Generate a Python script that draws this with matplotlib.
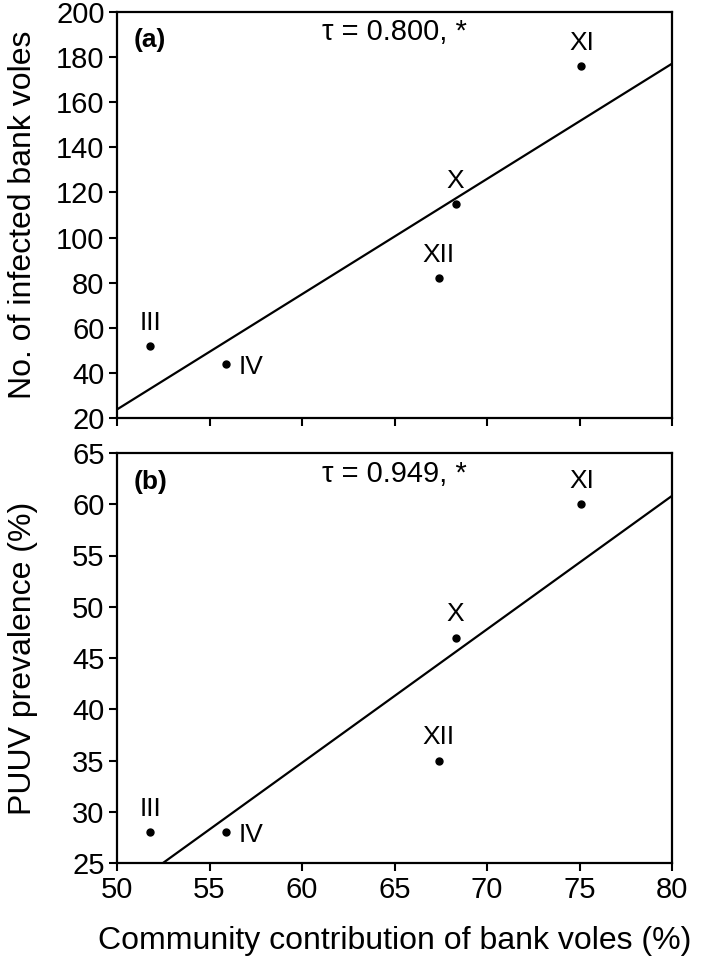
import numpy as np
import matplotlib
matplotlib.use("Agg")
import matplotlib.pyplot as plt

plt.rcParams['font.family'] = ['Liberation Sans', 'DejaVu Sans']

months = ['III', 'IV', 'XII', 'X', 'XI']
contribution = [51.8, 55.9, 67.4, 68.3, 75.1]
infected = [52, 44, 82, 115, 176]
prevalence = [28, 28, 35, 47, 60]

# label offsets in points (dx, dy) per month
offsets = {'III': (0, 8), 'IV': (9, -2), 'XII': (0, 8), 'X': (0, 8), 'XI': (0, 8)}

fig = plt.figure(figsize=(7.09, 9.58), dpi=100)
W, H = 709, 958
ax1 = fig.add_axes([117 / W, 1 - 418 / H, 555 / W, 406 / H])
ax2 = fig.add_axes([117 / W, 1 - 863 / H, 555 / W, 410 / H])

panels = [
    (ax1, infected, (20, 200), np.arange(20, 201, 20), 'No. of infected bank voles', '(a)', 'τ = 0.800, *'),
    (ax2, prevalence, (25, 65), np.arange(25, 66, 5), 'PUUV prevalence (%)', '(b)', 'τ = 0.949, *'),
]

for ax, yvals, ylim, yticks, ylab, tag, tau in panels:
    ax.plot(contribution, yvals, 'o', color='black', markersize=5)
    k, b = np.polyfit(contribution, yvals, 1)
    xs = np.array([50, 80])
    ax.plot(xs, k * xs + b, color='black', linewidth=1.6)
    for m, x, y in zip(months, contribution, yvals):
        dx, dy = offsets[m]
        ha = 'left' if dx > 0 else 'center'
        ax.annotate(m, (x, y), xytext=(dx, dy), textcoords='offset points',
                    ha=ha, va='bottom' if dy > 0 else 'center', fontsize=19)
    ax.set_xlim(50, 80)
    ax.set_ylim(*ylim)
    ax.set_yticks(yticks)
    ax.set_xticks(np.arange(50, 81, 5))
    ax.set_ylabel(ylab, fontsize=23)
    ax.text(0.03, 0.93, tag, transform=ax.transAxes, fontsize=19, fontweight='bold',
            va='center', ha='left')
    ax.text(0.5, 0.95, tau, transform=ax.transAxes, fontsize=21, va='center', ha='center')
    ax.tick_params(direction='out', length=6, width=1.5, labelsize=21, pad=3)
    for s in ax.spines.values():
        s.set_linewidth(1.6)

ax1.tick_params(labelbottom=False)
ax2.set_xlabel('Community contribution of bank voles (%)', fontsize=23, labelpad=16)
ax1.yaxis.set_label_coords(-0.142, 0.5)
ax2.yaxis.set_label_coords(-0.142, 0.5)

fig.savefig('out.png', dpi=100)
